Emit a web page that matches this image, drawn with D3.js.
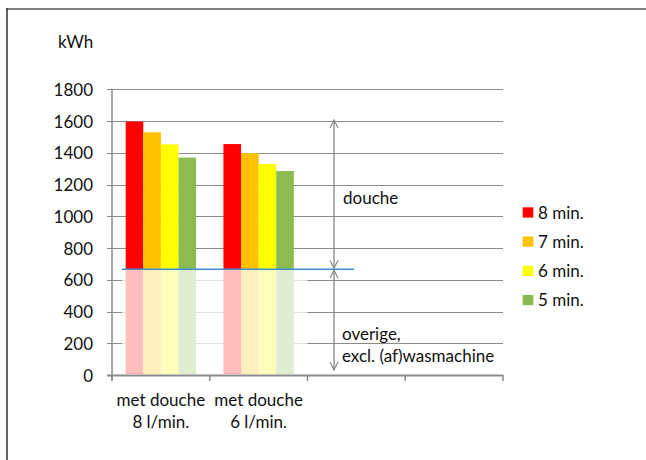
<!DOCTYPE html>
<html>
<head>
<meta charset="utf-8">
<script src="https://cdn.jsdelivr.net/npm/d3@7"></script>
<style>
  html, body { margin: 0; padding: 0; background: #fff; }
  svg { display: block; }
  text { font-family: Lato, "Open Sans", sans-serif; fill: #111; }
</style>
</head>
<body>
<svg id="chart" width="646" height="460"></svg>
<script>
// ---- data ----
const categories = [["met douche", "8 l/min."], ["met douche", "6 l/min."], [""], [""]];
const seriesNames = ["8 min.", "7 min.", "6 min.", "5 min."];
const seriesColors = ["#ff0000", "#ffc000", "#ffff00", "#8dbb4f"];
const values8 = [1597, 1455];   // 8 min.
const values7 = [1529, 1398];   // 7 min.
const values6 = [1453, 1330];   // 6 min.
const values5 = [1370, 1285];   // 5 min.
const seriesValues = [values8, values7, values6, values5];
const yTicks = [0, 200, 400, 600, 800, 1000, 1200, 1400, 1600, 1800];
const baseLevel = 666;      // overige, excl. (af)wasmachine
const unitLabel = "kWh";
const annotTop = "douche";
const annotBottom = ["overige,", "excl. (af)wasmachine"];

// ---- layout ----
const svg = d3.select("#chart");
const plotL = 112, plotR = 503, plotT = 89.3, plotB = 375;
const fs = 17;

const x = d3.scaleBand().domain(d3.range(categories.length)).range([plotL, plotR]).padding(0);
const bw = x.bandwidth();
const xs = d3.scaleBand().domain(d3.range(seriesNames.length)).range([bw * 0.14, bw * 0.86]).padding(0);
const y = d3.scaleLinear().domain([0, 1800]).range([plotB, plotT]);

// frame
svg.append("line").attr("x1", 6).attr("x2", 646).attr("y1", 9).attr("y2", 9)
  .attr("stroke", "#7f7f7f").attr("stroke-width", 2.2);
svg.append("line").attr("x1", 7).attr("x2", 7).attr("y1", 8).attr("y2", 460)
  .attr("stroke", "#3a3a3a").attr("stroke-width", 1.6);

// gridlines + y ticks
const grid = svg.append("g");
yTicks.filter(t => t > 0).forEach(t => {
  grid.append("line").attr("x1", plotL - 5).attr("x2", plotR)
    .attr("y1", Math.round(y(t)) + 0.5).attr("y2", Math.round(y(t)) + 0.5)
    .attr("stroke", "#8a8a8a").attr("stroke-width", 1.2);
});

// y axis labels
const yAxis = d3.axisLeft(y).tickValues(yTicks).tickSize(0).tickPadding(0).tickFormat(d3.format("d"));
const yg = svg.append("g").attr("transform", `translate(${plotL - 19},0)`).call(yAxis);
yg.select(".domain").remove();
yg.selectAll("text").style("font-family", "Lato, sans-serif").style("font-size", fs + "px").attr("fill", "#111").attr("dy", "0.36em");

// bars
const bars = svg.append("g");
categories.forEach((c, ci) => {
  seriesValues.forEach((vals, si) => {
    if (vals[ci] === undefined) return;
    bars.append("rect")
      .attr("x", x(ci) + xs(si))
      .attr("width", xs.bandwidth())
      .attr("y", y(vals[ci]))
      .attr("height", (plotB - 1.5) - y(vals[ci]))
      .attr("fill", seriesColors[si]);
  });
});

// white veil over the "overige" part
svg.append("rect")
  .attr("x", x(0) + 10)
  .attr("width", x(1) + bw - (x(0) + 10))
  .attr("y", y(baseLevel))
  .attr("height", (plotB - 1.5) - y(baseLevel))
  .attr("fill", "#ffffff").attr("opacity", 0.74);

// y axis line
svg.append("line").attr("x1", plotL).attr("x2", plotL).attr("y1", plotT).attr("y2", plotB + 6)
  .attr("stroke", "#8a8a8a").attr("stroke-width", 1.5);
// x axis line
svg.append("line").attr("x1", plotL - 5).attr("x2", plotR).attr("y1", plotB + 0.5).attr("y2", plotB + 0.5)
  .attr("stroke", "#8a8a8a").attr("stroke-width", 2);
// x ticks at band boundaries
const bounds = d3.range(categories.length + 1).map(i => plotL + i * bw);
bounds.forEach(b => {
  svg.append("line").attr("x1", b).attr("x2", b).attr("y1", plotB).attr("y2", plotB + 6)
    .attr("stroke", "#8a8a8a").attr("stroke-width", 1.5);
});

// category labels
categories.forEach((c, ci) => {
  const t = svg.append("text").attr("text-anchor", "middle").style("font-size", fs + "px");
  c.forEach((line, li) => {
    t.append("tspan").attr("x", x(ci) + bw / 2).attr("y", 406 + li * 21.5).text(line);
  });
});

// blue base line
svg.append("line").attr("x1", x(0) + 10).attr("x2", 354)
  .attr("y1", y(baseLevel)).attr("y2", y(baseLevel))
  .attr("stroke", "#3d8fd1").attr("stroke-width", 1.5);

// double arrows
const ax = 334;
function chevron(xc, yTip, dir) {
  svg.append("path")
    .attr("d", `M${xc - 4},${yTip + dir * 8} L${xc},${yTip} L${xc + 4},${yTip + dir * 8}`)
    .attr("fill", "none").attr("stroke", "#858585").attr("stroke-width", 1.1);
}
function dblArrow(y1, y2) {
  svg.append("line").attr("x1", ax).attr("x2", ax).attr("y1", y1).attr("y2", y2)
    .attr("stroke", "#858585").attr("stroke-width", 1.3);
  chevron(ax, y1, 1);
  chevron(ax, y2, -1);
}
dblArrow(y(1600) - 1, y(baseLevel) - 1);
dblArrow(y(baseLevel) + 1, plotB - 5);

// annotation texts
svg.append("text").attr("x", 343).attr("y", 203.5).style("font-size", fs + "px").text(annotTop);
const ab = svg.append("text").style("font-size", fs + "px");
annotBottom.forEach((l, i) => ab.append("tspan").attr("x", 342).attr("y", 340 + i * 21.7).text(l));

// unit label
svg.append("text").attr("x", 58).attr("y", 48).style("font-size", fs + "px").text(unitLabel);

// legend
const lg = svg.append("g");
seriesNames.forEach((n, i) => {
  const yy = 207.3 + i * 29.2;
  lg.append("rect").attr("x", 522.7).attr("y", yy).attr("width", 10.6).attr("height", 10.3).attr("fill", seriesColors[i]);
  lg.append("text").attr("x", 538).attr("y", yy + 5.2).attr("dy", "0.36em").style("font-size", fs + "px").text(n);
});
</script>
</body>
</html>
